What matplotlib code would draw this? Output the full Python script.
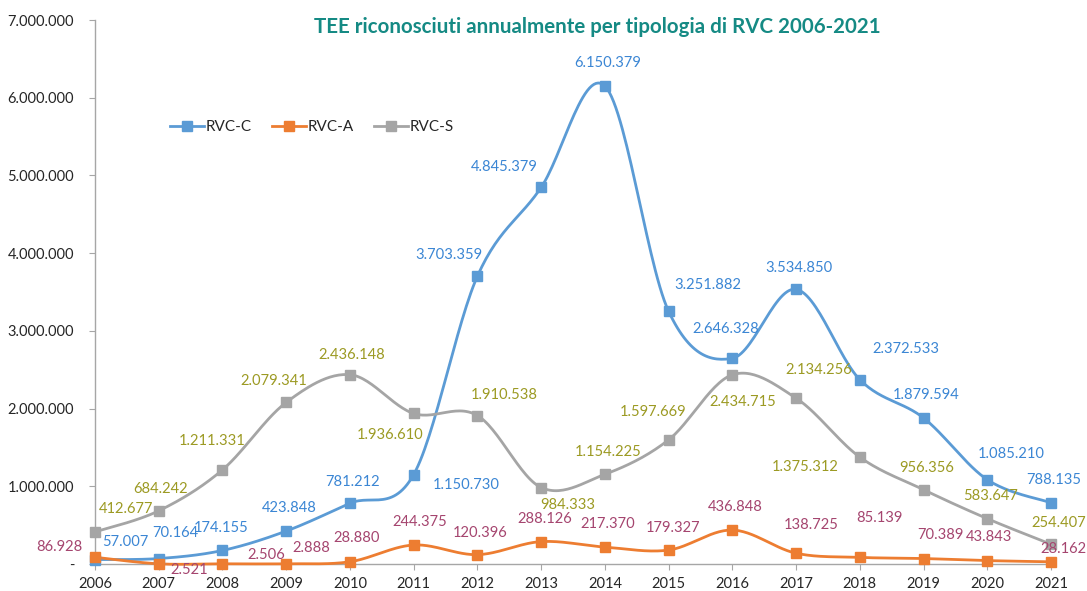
import numpy as np
import matplotlib.pyplot as plt

plt.rcParams['font.family'] = ['Lato', 'DejaVu Sans']

years = list(range(2006, 2022))
rvc_c = [57007, 70164, 174155, 423848, 781212, 1150730, 3703359, 4845379,
         6150379, 3251882, 2646328, 3534850, 2372533, 1879594, 1085210, 788135]
rvc_a = [86928, 2521, 2506, 2888, 28880, 244375, 120396, 288126,
         217370, 179327, 436848, 138725, 85139, 70389, 43843, 28162]
rvc_s = [412677, 684242, 1211331, 2079341, 2436148, 1936610, 1910538, 984333,
         1154225, 1597669, 2434715, 2134256, 1375312, 956356, 583647, 254407]

# label offsets in pixels (dx, dy up)
off_c = [(30, 18), (17, 26), (-1, 22), (3, 23), (3, 21), (53, -10), (-29, 21), (-37, 20),
         (3, 23), (39, 26), (-7, 29), (3, 21), (46, 31), (3, 23), (24, 26), (3, 23)]
off_a = [(-36, 10), (30, -6), (44, 9), (25, 16), (7, 24), (6, 23), (3, 22), (4, 23),
         (3, 23), (4, 22), (3, 23), (15, 28), (20, 39), (17, 24), (2, 24), (12, 13)]
off_s = [(31, 23), (2, 22), (-10, 29), (-12, 21), (2, 20), (-24, -22), (27, 21), (27, -17),
         (3, 22), (-16, 28), (10, -27), (23, 28), (-55, -10), (3, 22), (3, 23), (8, 21)]


def smooth(x, y, n=30):
    # catmull-rom style bezier, like excel's smoothed line
    x = np.asarray(x, float)
    y = np.asarray(y, float)
    px = np.concatenate([[x[0]], x, [x[-1]]])
    py = np.concatenate([[y[0]], y, [y[-1]]])
    xs, ys = [], []
    t = np.linspace(0, 1, n)
    for i in range(1, len(px) - 2):
        p0 = np.array([px[i], py[i]])
        p3 = np.array([px[i + 1], py[i + 1]])
        b1 = p0 + (p3 - np.array([px[i - 1], py[i - 1]])) / 6
        b2 = p3 - (np.array([px[i + 2], py[i + 2]]) - p0) / 6
        pts = ((1 - t) ** 3)[:, None] * p0 + (3 * (1 - t) ** 2 * t)[:, None] * b1 \
            + (3 * (1 - t) * t ** 2)[:, None] * b2 + (t ** 3)[:, None] * p3
        xs.extend(pts[:, 0])
        ys.extend(pts[:, 1])
    return xs, ys


def fmt(v):
    return f"{v:,}".replace(",", ".")


fig = plt.figure(figsize=(10.87, 5.91), dpi=100)
ax = fig.add_axes([95 / 1087, 1 - 564 / 591, (1051 - 95) / 1087, (564 - 20) / 591])

series = [
    ('RVC-C', rvc_c, '#5B9BD5', '#3B86D4', off_c),
    ('RVC-A', rvc_a, '#ED7D31', '#A5456F', off_a),
    ('RVC-S', rvc_s, '#A5A5A5', '#9C9A23', off_s),
]
for name, vals, col, lcol, offs in series:
    sx, sy = smooth(years, vals)
    ax.plot(sx, sy, color=col, lw=2, clip_on=False, zorder=3)
    ax.plot(years, vals, ls='none', marker='s', ms=7.5, color=col, clip_on=False, zorder=4)
    ax.plot([], [], color=col, lw=2, marker='s', ms=7.5, label=name)
    for yr, v, (dx, dy) in zip(years, vals, offs):
        ax.annotate(fmt(v), (yr, v), xytext=(dx, dy), textcoords='offset pixels',
                    ha='center', va='center', fontsize=10.6, color=lcol, zorder=5)

ax.set_xlim(2006, 2021)
ax.set_ylim(0, 7000000)
ax.set_xticks(years)
ax.set_yticks(range(0, 7000001, 1000000))
ax.set_yticklabels(['-' if v == 0 else fmt(v) for v in range(0, 7000001, 1000000)])
for s in ['top', 'right']:
    ax.spines[s].set_visible(False)
for s in ['left', 'bottom']:
    ax.spines[s].set_color('#A6A6A6')
    ax.spines[s].set_linewidth(1)
ax.tick_params(axis='y', length=4, color='#A6A6A6', pad=11, labelsize=10.5, labelcolor='#262626')
ax.tick_params(axis='x', length=4, color='#A6A6A6', pad=5, labelsize=10.5, labelcolor='#262626')

fig.text(597 / 1087, 1 - 27 / 591, 'TEE riconosciuti annualmente per tipologia di RVC 2006-2021',
         ha='center', va='center', fontsize=14.8, fontweight='bold', color='#158A84')

ax.legend(loc='center left', bbox_to_anchor=(170 / 1087, 1 - 127 / 591),
          bbox_transform=fig.transFigure, ncol=3, frameon=False, fontsize=11,
          borderpad=0, borderaxespad=0, handlelength=2.2, handletextpad=0.15,
          columnspacing=1.3, labelcolor='#262626')

fig.savefig('out.png', dpi=100)
